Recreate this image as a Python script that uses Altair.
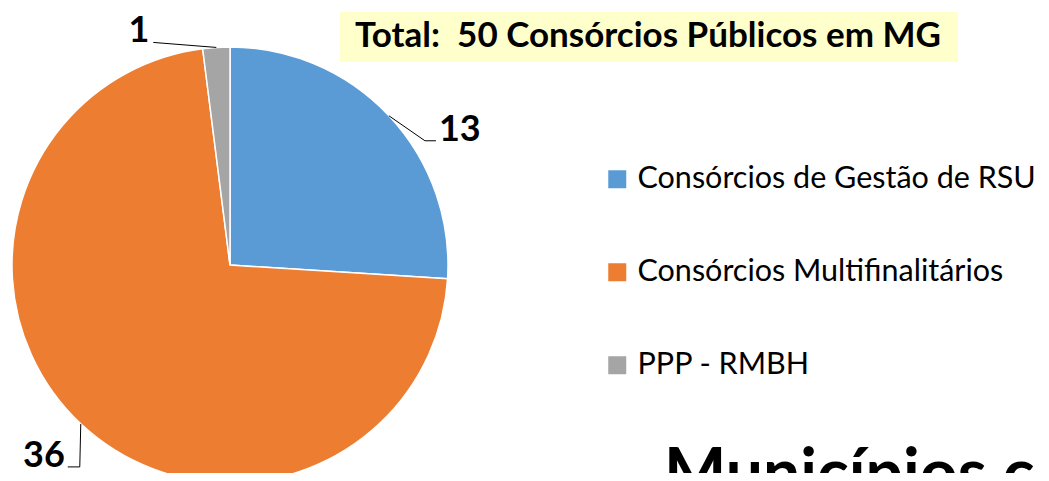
import altair as alt
import numpy as np
import pandas as pd

# ---- data ----
categories = ["Consórcios de Gestão de RSU", "Consórcios Multifinalitários", "PPP - RMBH"]
values = [13, 36, 1]
colors = ["#5B9BD5", "#ED7D31", "#A5A5A5"]
title_text = "Total:\u00a0 50 Consórcios Públicos em MG"
bottom_text = "Municípios c"

# ---- layout (styles) ----
W, H = 1033, 465
CX, CY, R = 222, 257, 218
FONT = "Lato"

pie_df = pd.DataFrame({"cat": categories, "value": values, "idx": range(len(values))})

# leader lines: anchored at each slice's mid-angle on the rim (derived from data)
total = sum(values)
cum = np.cumsum([0] + values)
mid = [(cum[i] + values[i] / 2) / total * 2 * np.pi for i in range(len(values))]
anchors = [(CX + R * np.sin(a), CY - R * np.cos(a)) for a in mid]

# per-label leader geometry offsets (style): list of (dx, dy) relative to anchor
leader_offsets = [
    [(0, 0), (36, 25), (47, 25)],      # 13
    [(0, 0), (-1, 43), (-13, 43)],     # 36
    [(0, 0), (-63, -5)],               # 1
]
label_align = ["left", "right", "right"]
label_gap = [3, -3, -4]

line_rows, text_rows = [], []
for i, (ax, ay) in enumerate(anchors):
    pts = leader_offsets[i]
    for j, (dx, dy) in enumerate(pts):
        line_rows.append({"k": i, "o": j, "px": ax + dx, "py": ay + dy})
    ex, ey = ax + pts[-1][0], ay + pts[-1][1]
    text_rows.append({"k": i, "tx": ex + label_gap[i], "ty": ey, "txt": str(values[i]), "al": label_align[i]})
line_df = pd.DataFrame(line_rows)
text_df = pd.DataFrame(text_rows)

color_scale = alt.Scale(domain=categories, range=colors)

pie = alt.Chart(pie_df).mark_arc(outerRadius=R, stroke="white", strokeWidth=1.5).encode(
    theta=alt.Theta("value:Q", stack=True),
    order=alt.Order("idx:Q"),
    color=alt.Color("cat:N", scale=color_scale, sort=categories,
                    legend=alt.Legend(title=None, orient="none", legendX=594, legendY=156,
                                      symbolType="square", symbolSize=324, symbolStrokeWidth=0,
                                      labelFontSize=30.5, labelFont=FONT, labelColor="#000000",
                                      labelOffset=5, labelLimit=600, rowPadding=62)),
    x=alt.value(CX), y=alt.value(CY),
)

leaders = alt.Chart(line_df).mark_line(color="#000000", strokeWidth=1).encode(
    x=alt.X("px:Q", scale=None), y=alt.Y("py:Q", scale=None),
    detail="k:N", order="o:Q",
)

labels_left = alt.Chart(text_df[text_df.al == "left"]).mark_text(
    align="left", baseline="alphabetic", font=FONT, fontSize=36, fontWeight="bold", color="#000000"
).encode(x=alt.X("tx:Q", scale=None), y=alt.Y("ty:Q", scale=None), text="txt:N")

labels_right = alt.Chart(text_df[text_df.al == "right"]).mark_text(
    align="right", baseline="alphabetic", font=FONT, fontSize=36, fontWeight="bold", color="#000000"
).encode(x=alt.X("tx:Q", scale=None), y=alt.Y("ty:Q", scale=None), text="txt:N")

box_df = pd.DataFrame({"t": [title_text]})
title_box = alt.Chart(box_df).mark_rect(fill="#FFFFCC").encode(
    x=alt.value(332), x2=alt.value(950), y=alt.value(4), y2=alt.value(54)
)
title_lbl = alt.Chart(box_df).mark_text(
    align="center", baseline="middle", font=FONT, fontSize=35, fontWeight="bold", color="#000000"
).encode(x=alt.value(640), y=alt.value(28), text="t:N")

bottom_df = pd.DataFrame({"t": [bottom_text]})
bottom = alt.Chart(bottom_df).mark_text(
    align="left", baseline="alphabetic", font=FONT, fontSize=66, fontWeight="bold", color="#000000"
).encode(x=alt.value(656), y=alt.value(488), text="t:N")

chart = alt.layer(pie, leaders, labels_left, labels_right, title_box, title_lbl, bottom).properties(
    width=W, height=H, autosize=alt.AutoSizeParams(type="none"), padding=0
).configure(background="white").configure_view(stroke=None)

chart.save("out.html", embed_options={"renderer": "svg", "actions": False})
